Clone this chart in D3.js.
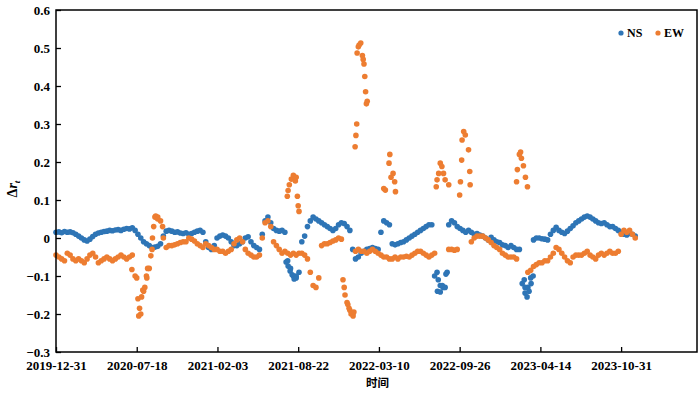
<!DOCTYPE html>
<html>
<head>
<meta charset="utf-8">
<script src="https://cdn.jsdelivr.net/npm/d3@7"></script>
<style>
  body { margin: 0; background: #fff; }
  svg text { font-family: "Liberation Serif", "Times New Roman", serif; font-weight: bold; }
</style>
</head>
<body>
<div id="chart"></div>
<script>
// sampling of the main series: one value every 7 days starting 2019-12-31
let startDay = "2019-12-31";
let stepDays = 7;
let spanDays = 1588;

let xTickLabels = ["2019-12-31", "2020-07-18", "2021-02-03", "2021-08-22",
  "2022-03-10", "2022-09-26", "2023-04-14", "2023-10-31"];
let yTickValues = [-0.3, -0.2, -0.1, 0, 0.1, 0.2, 0.3, 0.4, 0.5, 0.6];
let seriesNames = ["NS", "EW"];

let nsValues = [
  0.015, 0.016, 0.014, 0.017, 0.015, 0.016, 0.014, 0.01, 0.005, 0.0,
  -0.005, -0.008, -0.003, 0.004, 0.01, 0.013, 0.015, 0.017, 0.018, 0.02,
  0.019, 0.021, 0.022, 0.02, 0.023, 0.025, 0.024, 0.027, 0.02, 0.01,
  0.0, -0.01, -0.015, -0.02, -0.025, -0.024, -0.022, -0.015, 0.005, 0.018,
  0.02, 0.018, 0.015, 0.016, 0.013, 0.012, 0.014, 0.01, 0.012, 0.015,
  0.018, 0.02, 0.015, -0.01, -0.025, -0.03, -0.02, 0.0, 0.005, 0.008,
  0.005, 0.0, -0.01, -0.02, -0.02, -0.015, -0.01, 0.0, 0.003, -0.01,
  -0.02, -0.025, -0.03, 0.01, 0.045, 0.055, 0.04, 0.025, 0.02, 0.018,
  0.02, 0.015, -0.06, -0.08, -0.1, -0.105, -0.09, -0.01, 0.005, 0.03,
  0.045, 0.055, 0.05, 0.045, 0.04, 0.035, 0.03, 0.025, 0.02, 0.025,
  0.035, 0.04, 0.038, 0.03, 0.02, -0.03, -0.055, -0.05, -0.04, -0.035,
  -0.03, -0.028, -0.025, -0.028, -0.03, 0.015, 0.045, 0.04, 0.035, -0.015,
  -0.018, -0.015, -0.012, -0.01, -0.005, 0.0, 0.005, 0.01, 0.015, 0.02,
  0.025, 0.03, 0.035, 0.035, -0.1, -0.14, -0.125, -0.13, -0.095, 0.035,
  0.045, 0.04, 0.03, 0.025, 0.02, 0.015, 0.02, 0.015, 0.01, 0.012,
  0.008, 0.005, 0.0, -0.005, 0.002, -0.005, -0.01, -0.012, -0.018, -0.02,
  -0.025, -0.02, -0.025, -0.03, -0.03, -0.12, -0.145, -0.13, -0.105, -0.005,
  0.0, 0.0, -0.002, -0.003, -0.005, 0.01, 0.02, 0.028, 0.02, 0.015,
  0.012, 0.018, 0.025, 0.032, 0.04, 0.045, 0.05, 0.055, 0.058, 0.055,
  0.05, 0.045, 0.04, 0.038, 0.04, 0.035, 0.03, 0.03, 0.025, 0.02,
  0.015, 0.01, 0.008, 0.012, 0.01, 0.005
];

let ewValues = [
  -0.045, -0.05, -0.055, -0.06, -0.04, -0.045, -0.055, -0.06, -0.055, -0.06,
  -0.065, -0.055, -0.045, -0.04, -0.05, -0.065, -0.06, -0.055, -0.05, -0.055,
  -0.06, -0.055, -0.05, -0.045, -0.05, -0.055, -0.05, -0.045, -0.1, -0.16,
  -0.2, -0.14, -0.1, -0.08, -0.03, 0.055, 0.055, 0.045, 0.0, -0.025,
  -0.02, -0.02, -0.018, -0.015, -0.012, -0.01, -0.01, 0.0, -0.003, -0.008,
  -0.015, -0.02, -0.025, -0.015, -0.02, -0.025, -0.03, -0.03, -0.035, -0.035,
  -0.04, -0.035, -0.03, -0.015, -0.005, 0.0, -0.01, -0.03, -0.04, -0.045,
  -0.05, -0.05, -0.045, 0.0, 0.04, 0.045, 0.03, -0.01, -0.02, -0.03,
  -0.04, -0.035, -0.04, -0.045, -0.04, -0.045, -0.04, -0.04, -0.045, -0.055,
  -0.09, -0.125, -0.13, -0.105, -0.02, -0.015, -0.015, -0.012, -0.008, -0.005,
  0.0, -0.003, -0.13, -0.17, -0.19, -0.2, -0.035, -0.03, -0.035, -0.035,
  -0.04, -0.035, -0.03, -0.035, -0.04, -0.045, -0.05, -0.05, -0.055, -0.055,
  -0.05, -0.055, -0.05, -0.05, -0.048, -0.05, -0.045, -0.04, -0.035, -0.035,
  -0.04, -0.045, -0.05, -0.045, -0.04, null, null, null, null, -0.03,
  -0.03, -0.032, -0.03, null, null, null, null, -0.01, 0.0, 0.005,
  0.005, 0.005, 0.0, -0.005, -0.012, -0.02, -0.025, -0.03, -0.04, -0.045,
  -0.05, -0.05, -0.05, -0.055, null, null, null, -0.09, -0.085, -0.075,
  -0.07, -0.065, -0.065, -0.06, -0.06, -0.05, -0.04, -0.025, -0.03, -0.04,
  -0.05, -0.06, -0.065, -0.05, -0.045, -0.045, -0.045, -0.04, -0.035, -0.045,
  -0.05, -0.055, -0.045, -0.04, -0.045, -0.04, -0.035, -0.04, -0.04, -0.035,
  0.01, 0.02, 0.015, 0.02, 0.01, 0.0
];

// scattered NS points of the dips (day offset from 2019-12-31)
let nsJumpDays = [570, 575, 580, 585, 590, 595, 944, 947, 952, 957, 964, 969,
  1160, 1162, 1167, 1172, 1177, 1182];
let nsJumpValues = [-0.063, -0.074, -0.087, -0.097, -0.108, -0.1,
  -0.09, -0.11, -0.142, -0.125, -0.13, -0.09,
  -0.11, -0.13, -0.155, -0.14, -0.12, -0.1];

// scattered EW points of the jumps (day offset from 2019-12-31)
let ewJumpDays = [
  188, 200, 205, 207, 212, 215, 220, 225, 227, 235, 239, 242, 247, 252, 264,
  573, 575, 578, 583, 588, 593, 595, 598, 600, 602,
  711, 716, 723, 726, 731, 736, 738,
  741, 743, 745, 746, 749, 751, 755, 759, 761, 763, 765, 767, 769, 771,
  812, 816, 825, 827, 830, 835, 839, 841,
  942, 944, 948, 952, 956, 960, 964, 973,
  1000, 1002, 1005, 1006, 1010, 1014, 1022, 1025, 1026,
  1141, 1143, 1148, 1151, 1153, 1158, 1163, 1168
];
let ewJumpValues = [
  -0.083, -0.105, -0.205, -0.185, -0.155, -0.137, -0.13, -0.105, -0.08, -0.047, 0.0, 0.03, 0.058, 0.05, 0.03,
  0.11, 0.125, 0.14, 0.155, 0.165, 0.15, 0.16, 0.11, 0.085, 0.07,
  -0.11, -0.15, -0.175, -0.185, -0.2, -0.205, -0.195,
  0.24, 0.27, 0.3, 0.487, 0.503, 0.508, 0.513, 0.48, 0.47, 0.458, 0.425, 0.385, 0.353, 0.36,
  0.13, 0.126, 0.197, 0.22, 0.16, 0.17, 0.148, 0.122,
  0.135, 0.153, 0.17, 0.197, 0.188, 0.17, 0.153, 0.14,
  0.113, 0.148, 0.205, 0.258, 0.28, 0.271, 0.232, 0.175, 0.14,
  0.148, 0.18, 0.22, 0.226, 0.21, 0.19, 0.16, 0.135
];

let colors = ["#2e75b6", "#ed7d31"];

let width = 700;
let height = 394;
let plotLeft = 56, plotRight = 697, plotTop = 10, plotBottom = 352;
let dotR = 2.8;

let parseDay = d3.utcParse("%Y-%m-%d");
let start = parseDay(startDay);

let svg = d3.select("#chart")
  .append("svg")
  .attr("width", width)
  .attr("height", height);

let x = d3.scaleUtc()
  .domain([start, d3.utcDay.offset(start, spanDays)])
  .range([plotLeft, plotRight]);

let y = d3.scaleLinear()
  .domain([-0.3, 0.6])
  .range([plotBottom, plotTop]);

function toPoints(values) {
  return values
    .map((v, i) => ({ date: d3.utcDay.offset(start, i * stepDays), value: v }))
    .filter(d => d.value != null);
}

function jumpPoints(days, values) {
  return days.map((d, i) => ({ date: d3.utcDay.offset(start, d), value: values[i] }));
}

let nsPoints = toPoints(nsValues).concat(jumpPoints(nsJumpDays, nsJumpValues));
let ewPoints = toPoints(ewValues).concat(jumpPoints(ewJumpDays, ewJumpValues));

// axes with inward ticks
let xAxis = svg.append("g")
  .attr("transform", "translate(0," + plotBottom + ")")
  .call(d3.axisBottom(x)
    .tickValues(xTickLabels.map(parseDay))
    .tickFormat(d3.utcFormat("%Y-%m-%d"))
    .tickSize(-5)
    .tickPadding(9));

let yAxis = svg.append("g")
  .attr("transform", "translate(" + plotLeft + ",0)")
  .call(d3.axisLeft(y)
    .tickValues(yTickValues)
    .tickFormat(d => d === 0 ? "0" : d3.format(".1f")(d).replace("-", "\u2212"))
    .tickSize(-5)
    .tickPadding(6));

[xAxis, yAxis].forEach(g => {
  g.select(".domain").remove();
  g.selectAll(".tick line").attr("stroke", "#000").attr("stroke-width", 1.3);
  g.selectAll(".tick text")
    .attr("fill", "#000")
    .style("font-size", "13px")
    .style("font-family", "'Liberation Serif', 'Times New Roman', serif")
    .style("font-weight", "bold");
});

// points
svg.append("g")
  .selectAll("circle")
  .data(nsPoints)
  .enter()
  .append("circle")
  .attr("cx", d => x(d.date))
  .attr("cy", d => y(d.value))
  .attr("r", dotR)
  .attr("fill", colors[0]);

svg.append("g")
  .selectAll("circle")
  .data(ewPoints)
  .enter()
  .append("circle")
  .attr("cx", d => x(d.date))
  .attr("cy", d => y(d.value))
  .attr("r", dotR)
  .attr("fill", colors[1]);

// frame
svg.append("rect")
  .attr("x", plotLeft)
  .attr("y", plotTop)
  .attr("width", plotRight - plotLeft)
  .attr("height", plotBottom - plotTop)
  .attr("fill", "none")
  .attr("stroke", "#000")
  .attr("stroke-width", 1.5);

// axis titles
svg.append("text")
  .attr("x", (plotLeft + plotRight) / 2 + 1)
  .attr("y", 387)
  .attr("text-anchor", "middle")
  .style("font-family", "'Noto Sans CJK SC', sans-serif")
  .style("font-size", "11.5px")
  .style("font-weight", "bold")
  .text("时间");

let yTitle = svg.append("text")
  .attr("transform", "translate(17,189) rotate(-90)")
  .attr("text-anchor", "middle")
  .style("font-size", "14px");
yTitle.append("tspan").text("\u0394");
yTitle.append("tspan").style("font-style", "italic").text("r");
yTitle.append("tspan").style("font-style", "italic").style("font-size", "9px").attr("dy", 3).text("t");

// legend
let legend = svg.append("g");
let legendX = [621, 658];
seriesNames.forEach((name, i) => {
  legend.append("circle")
    .attr("cx", legendX[i])
    .attr("cy", 33)
    .attr("r", 2.6)
    .attr("fill", colors[i]);
  legend.append("text")
    .attr("x", legendX[i] + 6)
    .attr("y", 37)
    .style("font-size", "12px")
    .text(name);
});
</script>
</body>
</html>
